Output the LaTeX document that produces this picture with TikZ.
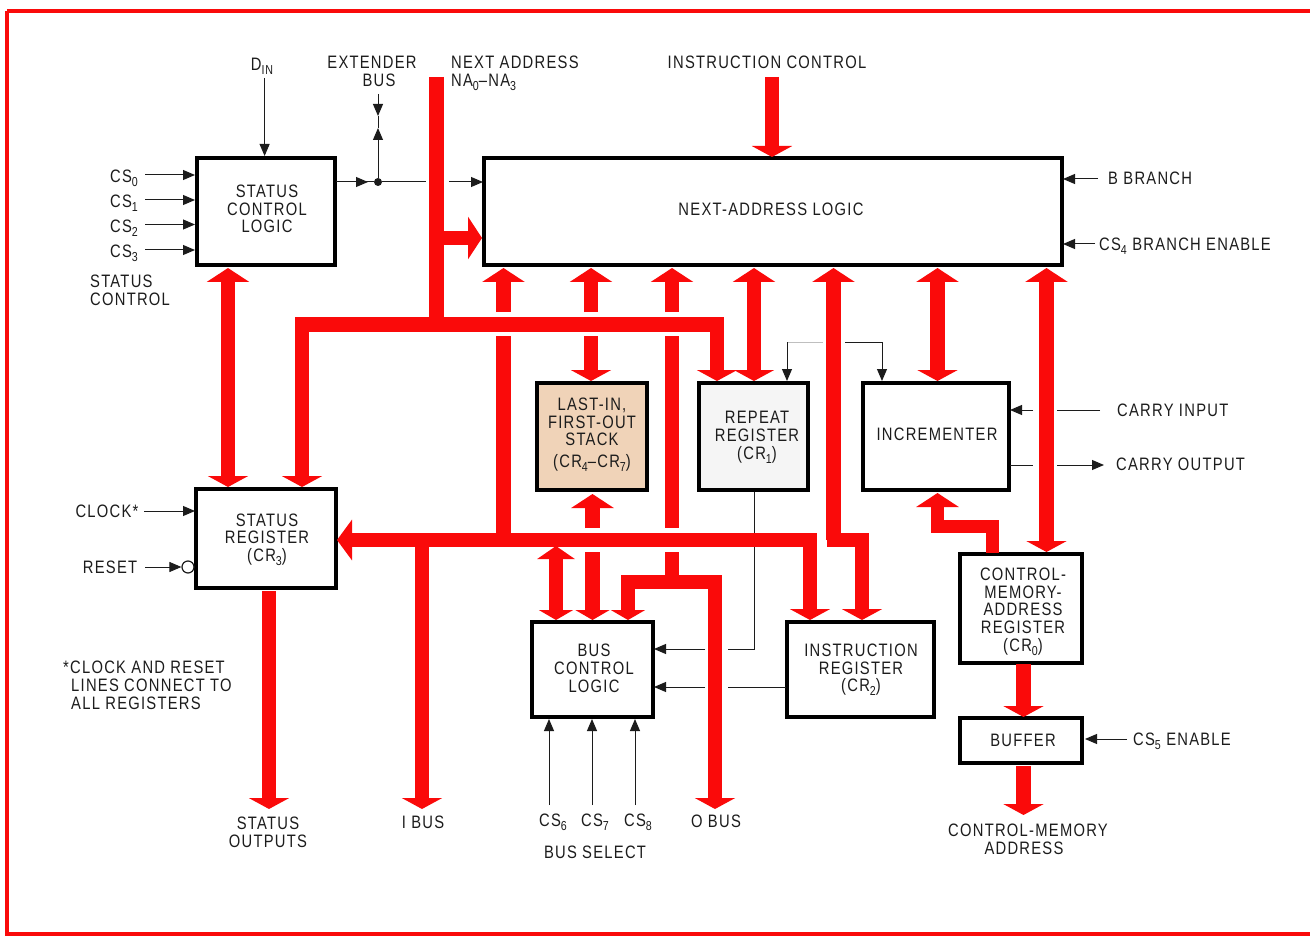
\documentclass[tikz,border=0pt]{standalone}
\usepackage{fontspec}
\setmainfont[FakeStretch=0.82,LetterSpace=7]{Liberation Sans}
\usetikzlibrary{arrows.meta}
\definecolor{busred}{RGB}{250,10,10}
\definecolor{ink}{RGB}{28,28,28}
\definecolor{stacktan}{RGB}{240,211,184}
\newcommand\sbs[1]{\raisebox{-4pt}{\fontsize{13}{13}\selectfont #1}}
\tikzset{
  txt/.style={text=ink,inner sep=0pt,align=center,font=\fontsize{18}{17.7}\selectfont},
  txtl/.style={txt,anchor=west,align=left},
  box/.style={draw=black,line width=4pt,fill=white,inner sep=0pt},
  thin/.style={draw=ink,line width=1pt},
  thinarrow/.style={thin,-{Triangle[length=12pt,width=10pt]}},
  faint/.style={draw=black!25,line width=1pt},
  bus/.style={draw=busred,line width=14.5pt},
  busup/.style={bus,-{Triangle[length=14pt,width=42pt]}},
  busdown/.style={bus,-{Triangle[length=11pt,width=40pt]}},
  busboth/.style={bus,{Triangle[length=14pt,width=42pt]}-{Triangle[length=11pt,width=40pt]}},
  busdownsmall/.style={bus,-{Triangle[length=10pt,width=34pt]}},
  busbothsmall/.style={bus,{Triangle[length=13pt,width=37pt]}-{Triangle[length=10pt,width=34pt]}},
  dotnode/.style={circle,fill=ink,inner sep=0pt,minimum size=8pt},
  bubble/.style={circle,draw=ink,line width=1.2pt,fill=white,inner sep=0pt,minimum size=12pt}
}
\begin{document}
\begin{tikzpicture}[x=1pt,y=-1pt]
\useasboundingbox (0,0) rectangle (1310,936);
\fill[white] (0,0) rectangle (1310,936);
\draw[busred,line width=3.5pt] (7,11) -- (1312,11);
\draw[busred,line width=3.5pt] (7,11) -- (7,934) -- (1312,934);
% boxes
\node[box,minimum width=138pt,minimum height=107pt] (scl) at (266,211.5) {};
\node[box,minimum width=578pt,minimum height=107pt] (nal) at (773,211.5) {};
\node[box,fill=stacktan,minimum width=110pt,minimum height=107pt] (lifo) at (592,436.5) {};
\node[box,fill=white!96!black,minimum width=109pt,minimum height=107pt] (rep) at (753.5,436.5) {};
\node[box,minimum width=146pt,minimum height=107pt] (inc) at (936,436.5) {};
\node[box,minimum width=140pt,minimum height=99pt] (sr) at (266,538.5) {};
\node[box,minimum width=121pt,minimum height=95pt] (bcl) at (592.5,669.5) {};
\node[box,minimum width=147pt,minimum height=95pt] (ir) at (860.5,669.5) {};
\node[box,minimum width=122pt,minimum height=109pt] (cmar) at (1021,608.5) {};
\node[box,minimum width=122pt,minimum height=45pt] (buf) at (1021,740.5) {};
\node[bubble] (rst) at (188,567) {};
\node[dotnode] (xdot) at (378,182) {};
% free ends and junctions
\coordinate (din) at (264.6,78);
\coordinate (cs0) at (145,175);
\coordinate (cs1) at (145,200);
\coordinate (cs2) at (145,224.5);
\coordinate (cs3) at (145,250);
\coordinate (scout) at (336,182);
\coordinate (gapa) at (426,182);
\coordinate (gapb) at (449,182);
\coordinate (nain) at (483,182);
\coordinate (exttop) at (378,94);
\coordinate (extdn) at (378,116);
\coordinate (extup) at (378,128);
\coordinate (bbr) at (1098,179);
\coordinate (bbrend) at (1063,179);
\coordinate (cs4) at (1095,244);
\coordinate (cs4end) at (1063,244);
\coordinate (clk) at (144,511);
\coordinate (clkend) at (195,511);
\coordinate (rstin) at (145,567);
\coordinate (repa) at (787,342);
\coordinate (repb) at (823,342);
\coordinate (repc) at (845,342);
\coordinate (repd) at (882,342);
\coordinate (cina) at (1100,410);
\coordinate (cinb) at (1057,410);
\coordinate (cinc) at (1033,410);
\coordinate (cind) at (1010,410);
\coordinate (couta) at (1010,465);
\coordinate (coutb) at (1033,465);
\coordinate (coutc) at (1057,465);
\coordinate (coutd) at (1104,465);
\coordinate (ra) at (754,649);
\coordinate (rb) at (728,649);
\coordinate (rc) at (705,649);
\coordinate (rd) at (654,649);
\coordinate (ia) at (786,687);
\coordinate (ib) at (728,687);
\coordinate (ic) at (705,687);
\coordinate (id) at (654,687);
\coordinate (cs6) at (549,805);
\coordinate (cs7) at (592,805);
\coordinate (cs8) at (635,805);
\coordinate (cs5) at (1127,739);
\coordinate (cs5end) at (1085,739);
% thin connectors
\draw[thinarrow] (din) -- (din |- scl.north);
\foreach \c in {cs0,cs1,cs2,cs3}{\draw[thinarrow] (\c) -- (\c -| scl.west);}
\draw[thin] (scout) -- (xdot);
\draw[thinarrow] (scout) -- (368,182);
\draw[thin] (xdot) -- (gapa);
\draw[thinarrow] (gapb) -- (nain);
\draw[thinarrow] (exttop) -- (extdn);
\draw[thin] (extdn) -- (extup);
\draw[thinarrow] (xdot) -- (extup);
\draw[thinarrow] (bbr) -- (bbrend);
\draw[thinarrow] (cs4) -- (cs4end);
\draw[thinarrow] (clk) -- (clkend);
\draw[thinarrow] (rstin) -- (rst);
\draw[faint] (repa) -- (repb);
\draw[thinarrow] (repa) -- (repa |- rep.north);
\draw[thin] (repc) -- (repd);
\draw[thinarrow] (repd) -- (repd |- inc.north);
\draw[thin] (cina) -- (cinb);
\draw[thinarrow] (cinc) -- (cind);
\draw[thin] (couta) -- (coutb);
\draw[thinarrow] (coutc) -- (coutd);
\draw[thin] (ra |- rep.south) -- (ra) -- (rb);
\draw[thinarrow] (rc) -- (rd);
\draw[thin] (ia) -- (ib);
\draw[thinarrow] (ic) -- (id);
\foreach \c in {cs6,cs7,cs8}{\draw[thinarrow] (\c) -- (\c |- bcl.south);}
\draw[thinarrow] (cs5) -- (cs5end);
% bus coordinates
\coordinate (natop) at (436.5,77);
\coordinate (najn) at (436.5,324.5);
\coordinate (naj2) at (436.5,238);
\coordinate (busl) at (302,324.5);
\coordinate (busr) at (717,324.5);
\coordinate (mid) at (337,540);
\coordinate (midr) at (810,540);
\coordinate (ictop) at (772,77);
\coordinate (sra) at (228,268);
\coordinate (x591) at (591,336);
\coordinate (x754) at (754,268);
\coordinate (x937) at (937.5,268);
\coordinate (x1046) at (1046.5,268);
\coordinate (x556) at (556,546);
\coordinate (x592) at (592.5,552);
\coordinate (x628) at (628,582);
\coordinate (x862) at (862,540);
% buses
\draw[bus] (natop) -- (najn);
\draw[busup] (naj2) -- (nal.west |- naj2);
\draw[busdown] (busr) -- (busl) -- (busl |- sr.north);
\draw[busdown] (najn) -- (busr) -- (busr |- rep.north);
\draw[busboth] (sra) -- (sra |- sr.north);
\foreach \x in {503.5,591,672}{\draw[busup] (\x,312) -- (\x,268);}
\draw[bus] (503.5,336) -- (503.5,540);
\draw[busdown] (x591) -- (x591 |- lifo.north);
\draw[bus] (672,336) -- (672,528);
\draw[busboth] (x754) -- (x754 |- rep.north);
\draw[busboth] (x937) -- (x937 |- inc.north);
\draw[busboth] (x1046) -- (x1046 |- cmar.north);
\draw[busup] (592.5,528) -- (592.5,494);
\draw[{Triangle[length=15pt,width=40pt]}-{Triangle[length=11pt,width=40pt]},bus] (mid) -- (midr) -- (midr |- ir.north);
\draw[bus,-{Triangle[length=14pt,width=42pt]}] (833.5,540) -- (833.5,268);
\draw[busdown] (826.5,540) -- (x862) -- (x862 |- ir.north);
\draw[busdown] (269,591) -- (269,809);
\draw[busdown] (422,540) -- (422,809);
\draw[busbothsmall] (x556) -- (x556 |- bcl.north);
\draw[busdownsmall] (x592) -- (x592 |- bcl.north);
\draw[bus] (672,552) -- (672,582);
\draw[busdownsmall] (672,582) -- (x628) -- (x628 |- bcl.north);
\draw[busdown] (672,582) -- (715,582) -- (715,809);
\draw[busdown] (ictop) -- (772,157);
\draw[busup,line width=13pt] (992,553) -- (992,526.5) -- (937.5,526.5) -- (937.5,493);
\draw[busdown] (1023.5,664) -- (1023.5,717);
\draw[busdown] (1023.5,766) -- (1023.5,815);
% texts
\node[txt] (tdin) at (262,66) {D\sbs{IN}};
\node[txt] (text) at (372,71.5) {EXTENDER\\\hspace*{14pt}BUS};
\node[txt,anchor=north west,align=left] (tna) at (451,56) {NEXT ADDRESS\\NA\sbs{0}–NA\sbs{3}};
\node[txt] (tic) at (767,62) {INSTRUCTION CONTROL};
\node[txtl] (tbb) at (1108,178) {B BRANCH};
\node[txtl] (tcs4) at (1099,246) {CS\sbs{4} BRANCH ENABLE};
\node[txt] (tnal) at (771,209) {NEXT-ADDRESS LOGIC};
\node[txt] (tscl) at (267,209) {STATUS\\CONTROL\\LOGIC};
\node[txt] (tc0) at (124,178) {CS\sbs{0}};
\node[txt] (tc1) at (124,203) {CS\sbs{1}};
\node[txt] (tc2) at (124,228) {CS\sbs{2}};
\node[txt] (tc3) at (124,253) {CS\sbs{3}};
\node[txt,anchor=north west,align=left] (tsc) at (90,275) {STATUS\\CONTROL};
\node[txt] (tclk) at (107,511) {CLOCK*};
\node[txt] (trst) at (110,567) {RESET};
\node[txt] (tsr) at (267,539.5) {STATUS\\REGISTER\\(CR\sbs{3})};
\node[txt,anchor=north west,align=left] (tnote) at (63,661) {*CLOCK AND RESET\\\hspace*{8pt}LINES CONNECT TO\\\hspace*{8pt}ALL REGISTERS};
\node[txt] (tso) at (268,832) {STATUS\\OUTPUTS};
\node[txt] (tib) at (423,822) {I BUS};
\node[txt] (tc6) at (553,822) {CS\sbs{6}};
\node[txt] (tc7) at (595,822) {CS\sbs{7}};
\node[txt] (tc8) at (638,822) {CS\sbs{8}};
\node[txt] (tbs) at (595,852) {BUS SELECT};
\node[txt] (tob) at (716,821) {O BUS};
\node[txt] (tcma) at (1028,839) {CONTROL-MEMORY\\ADDRESS\hspace*{8pt}};
\node[txt] (tbuf) at (1023,740) {BUFFER};
\node[txtl] (tcs5) at (1133,741) {CS\sbs{5} ENABLE};
\node[txt] (tir) at (861,670) {INSTRUCTION\\REGISTER\\(CR\sbs{2})};
\node[txt] (tbcl) at (594,668.5) {BUS\\CONTROL\\LOGIC};
\node[txt] (tlifo) at (592,422) {LAST-IN,\\FIRST-OUT\\STACK};
\node[txt] (tcr47) at (592,463) {(CR\sbs{4}–CR\sbs{7})};
\node[txt] (trep) at (757,437.5) {REPEAT\\REGISTER\\(CR\sbs{1})};
\node[txt] (tinc) at (937,434) {INCREMENTER};
\node[txtl] (tci) at (1117,410) {CARRY INPUT};
\node[txtl] (tco) at (1116,464) {CARRY OUTPUT};
\node[txt] (tcm) at (1023,611.5) {CONTROL-\\MEMORY-\\ADDRESS\\REGISTER\\(CR\sbs{0})};
\end{tikzpicture}
\end{document}
